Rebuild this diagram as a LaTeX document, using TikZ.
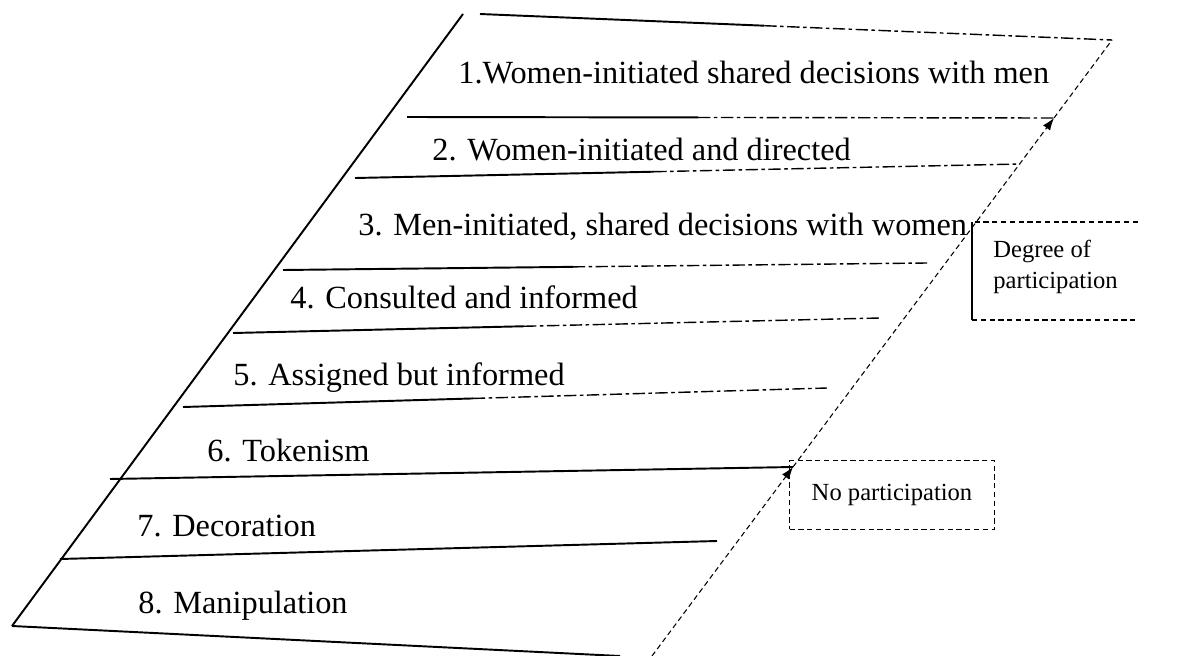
\documentclass[tikz,border=0pt]{standalone}
\usepackage{fontspec}
\setmainfont{Liberation Serif}
\usetikzlibrary{arrows.meta}

\begin{document}
\begin{tikzpicture}[x=0.02cm, y=-0.02cm,
    rung/.style={line width=1.1pt},
    faded/.style={line width=0.8pt, dash pattern=on 7pt off 2pt on 2pt off 2pt},
    edge/.style={line width=0.6pt, dash pattern=on 3pt off 2pt},
    item/.style={anchor=base west, inner sep=0pt, font=\fontsize{18.4}{22}\selectfont},
    tag/.style={anchor=base west, inner sep=0pt, font=\fontsize{14}{17}\selectfont}]
  \useasboundingbox (0,0) rectangle (1201,656);

  % ends of the rungs, top (0) to bottom (8)
  \foreach \n/\xa/\ya/\xb/\yb in {0/480/14/1112/40, 1/407/117/1054/118,
      2/355/178/1020/164, 3/283/270/927/263, 4/233/333/880/318,
      5/183/407/827/388, 6/110/479/793/467, 7/60/559/717/541, 8/12/626/620/656} {
    \coordinate (l\n) at (\xa,\ya);
    \coordinate (r\n) at (\xb,\yb);
  }
  \coordinate (tl) at (463,14);
  \coordinate (br) at (652,656);

  % sides
  \draw[rung] (tl) -- (l8);
  \draw[edge, -{Latex[length=7pt, width=5pt]}] (br) -- (r6);
  \draw[edge, -{Latex[length=7pt, width=5pt]}] (r6) -- (r1);
  \draw[edge] (r1) -- (r0);

  % rungs: upper ones fade out to the right
  \foreach \n in {0,...,5} {
    \path (l\n) -- coordinate[pos=0.45] (m\n) (r\n);
    \draw[rung] (l\n) -- (m\n);
    \draw[faded] (m\n) -- (r\n);
  }
  \foreach \n in {6,7,8}
    \draw[rung] (l\n) -- (r\n);

  % steps
  \node[item] (i1) at (458,83) {1.Women-initiated shared decisions with men};
  \node[item] (i2) at (432,160) {2. Women-initiated and directed};
  \node[item] (i3) at (358,235) {3. Men-initiated, shared decisions with women};
  \node[item] (i4) at (290,308) {4. Consulted and informed};
  \node[item] (i5) at (233,385) {5. Assigned but informed};
  \node[item] (i6) at (207,461) {6. Tokenism};
  \node[item] (i7) at (137,536) {7. Decoration};
  \node[item] (i8) at (138,613) {8. Manipulation};

  % side labels
  \node[tag] (deg1) at (993,257) {Degree of};
  \node[tag] (deg2) at (993,288) {participation};
  \coordinate (da) at (972,222);
  \coordinate (db) at (972,320);
  \draw[edge] (1138,222) -- (da);
  \draw[line width=0.8pt] (da) -- (db);
  \draw[edge] (db) -- (1138,320);

  \node[draw, edge, inner sep=0pt, minimum width=4.1cm, minimum height=1.38cm,
        font=\fontsize{14}{17}\selectfont] (nopart) at (892,495) {No participation};
\end{tikzpicture}
\end{document}
